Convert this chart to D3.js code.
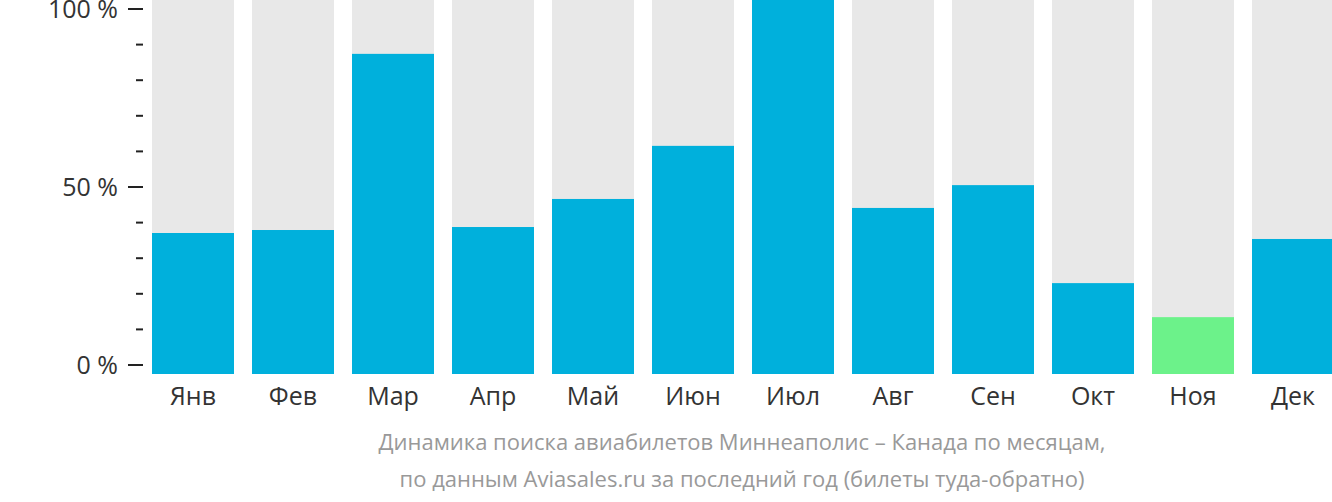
<!DOCTYPE html>
<html><head><meta charset="utf-8">
<script src="https://cdn.jsdelivr.net/npm/d3@7"></script>
<style>body{margin:0;background:#fff}svg{display:block}text{font-family:"Open Sans",sans-serif}</style>
</head><body>
<svg id="c" width="1332" height="502"></svg>
<script>
const months = ["Янв","Фев","Мар","Апр","Май","Июн","Июл","Авг","Сен","Окт","Ноя","Дек"];
const values = [37.7, 38.5, 85.6, 39.3, 46.8, 61.0, 100, 44.4, 50.5, 24.3, 15.2, 36.1];
const highlight = [false,false,false,false,false,false,false,false,false,false,true,false];
const majorTicks = [0, 50, 100];
const minorTicks = [10, 20, 30, 40, 60, 70, 80, 90];
const tickLabels = ["0 %", "50 %", "100 %"];
const titleLines = ["Динамика поиска авиабилетов Миннеаполис – Канада по месяцам,",
                    "по данным Aviasales.ru за последний год (билеты туда-обратно)"];

const svg = d3.select("#c");
const x = d3.scaleBand().domain(months).range([143, 1343]).paddingInner(0.18).paddingOuter(0.09);
const yBar = d3.scaleLinear().domain([0, 100]).range([374, 0]);
const yAxis = d3.scaleLinear().domain([0, 100]).range([365, 9]);

// background bars
svg.append("g").selectAll("rect").data(months).join("rect")
  .attr("x", d => x(d)).attr("width", x.bandwidth())
  .attr("y", yBar(100)).attr("height", yBar(0) - yBar(100))
  .attr("fill", "#e8e8e8");
// value bars
svg.append("g").selectAll("rect").data(values).join("rect")
  .attr("x", (d, i) => x(months[i])).attr("width", x.bandwidth())
  .attr("y", d => yBar(d)).attr("height", d => yBar(0) - yBar(d))
  .attr("fill", (d, i) => highlight[i] ? "#6cf28a" : "#00b0dc");

// y axis ticks
const ga = svg.append("g");
ga.selectAll("line.maj").data(majorTicks).join("line").attr("class","maj")
  .attr("x1", 128).attr("x2", 143)
  .attr("y1", d => yAxis(d)).attr("y2", d => yAxis(d))
  .attr("stroke", "#222").attr("stroke-width", 2);
ga.selectAll("line.min").data(minorTicks).join("line").attr("class","min")
  .attr("x1", 136).attr("x2", 143)
  .attr("y1", d => yAxis(d)).attr("y2", d => yAxis(d))
  .attr("stroke", "#222").attr("stroke-width", 2);
ga.selectAll("text").data(majorTicks).join("text")
  .attr("x", 118).attr("y", d => yAxis(d)).attr("dy", "0.35em")
  .attr("text-anchor", "end").attr("font-size", 25).attr("fill", "#333")
  .text((d, i) => tickLabels[i]);

// month labels
svg.append("g").selectAll("text").data(months).join("text")
  .attr("x", d => x(d) + x.bandwidth() / 2).attr("y", 405)
  .attr("text-anchor", "middle").attr("font-size", 25).attr("fill", "#333")
  .text(d => d);

// caption
svg.append("g").selectAll("text").data(titleLines).join("text")
  .attr("x", 742).attr("y", (d, i) => 450 + i * 37)
  .attr("text-anchor", "middle").attr("font-size", 22).attr("fill", "#999")
  .text(d => d);
</script>
</body></html>
